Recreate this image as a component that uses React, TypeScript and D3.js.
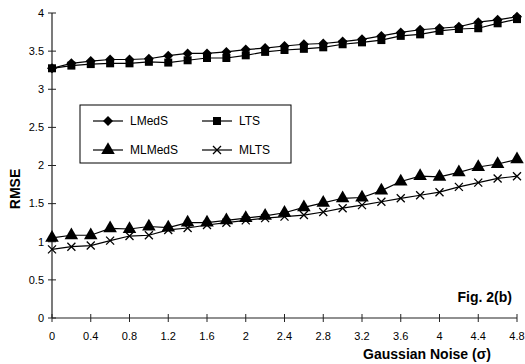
import React, { useEffect, useRef } from 'react';
import * as d3 from 'd3';

const noise = [0, 0.2, 0.4, 0.6, 0.8, 1.0, 1.2, 1.4, 1.6, 1.8, 2.0, 2.2, 2.4, 2.6, 2.8, 3.0, 3.2, 3.4, 3.6, 3.8, 4.0, 4.2, 4.4, 4.6, 4.8];
const lmeds = [3.275, 3.34, 3.37, 3.39, 3.39, 3.4, 3.44, 3.47, 3.47, 3.49, 3.52, 3.54, 3.567, 3.59, 3.6, 3.625, 3.655, 3.7, 3.745, 3.78, 3.8, 3.82, 3.88, 3.91, 3.95];
const lts = [3.275, 3.31, 3.33, 3.34, 3.34, 3.36, 3.35, 3.38, 3.41, 3.41, 3.445, 3.49, 3.515, 3.53, 3.55, 3.59, 3.615, 3.645, 3.7, 3.72, 3.765, 3.79, 3.8, 3.865, 3.92];
const mlmeds = [1.05, 1.085, 1.085, 1.176, 1.167, 1.2, 1.185, 1.25, 1.25, 1.28, 1.31, 1.34, 1.38, 1.45, 1.51, 1.57, 1.58, 1.67, 1.79, 1.86, 1.85, 1.91, 1.98, 2.02, 2.08];
const mlts = [0.9, 0.935, 0.95, 1.015, 1.075, 1.085, 1.155, 1.18, 1.22, 1.25, 1.28, 1.31, 1.33, 1.35, 1.39, 1.44, 1.48, 1.525, 1.57, 1.61, 1.65, 1.72, 1.775, 1.83, 1.86];
const xTicks = [0, 0.4, 0.8, 1.2, 1.6, 2, 2.4, 2.8, 3.2, 3.6, 4, 4.4, 4.8];
const yTicks = [0, 0.5, 1, 1.5, 2, 2.5, 3, 3.5, 4];

const series = [
    { name: 'LMedS', values: lmeds, marker: 'diamond' },
    { name: 'LTS', values: lts, marker: 'square' },
    { name: 'MLMedS', values: mlmeds, marker: 'triangle' },
    { name: 'MLTS', values: mlts, marker: 'cross' },
];

const FONT = '"Liberation Sans", Arial, sans-serif';

const drawMarker = (g, type, cx, cy) => {
    if (type === 'cross') {
        g.append('path')
            .attr('d', `M${cx - 4},${cy - 4}L${cx + 4},${cy + 4}M${cx - 4},${cy + 4}L${cx + 4},${cy - 4}`)
            .attr('stroke', '#000').attr('stroke-width', 1.3).attr('fill', 'none');
        return;
    }
    if (type === 'diamond') {
        // wider diamond than d3's default
        g.append('path')
            .attr('d', `M${cx},${cy - 5}L${cx + 5},${cy}L${cx},${cy + 5}L${cx - 5},${cy}Z`)
            .attr('fill', '#000');
        return;
    }
    const sym = type === 'square' ? d3.symbolSquare : d3.symbolTriangle;
    const size = type === 'square' ? 64 : 80;
    g.append('path')
        .attr('d', d3.symbol().type(sym).size(size)())
        .attr('transform', `translate(${cx},${cy})`)
        .attr('fill', '#000');
};

const App = () => {
    const ref = useRef(null);

    useEffect(() => {
        const svg = d3.select(ref.current);
        svg.selectAll('*').remove();

        const x = d3.scaleLinear().domain([0, 4.8]).range([52, 517]);
        const y = d3.scaleLinear().domain([0, 4]).range([318, 13]);

        // axes
        const axisColor = '#222';
        svg.append('line').attr('x1', x(0)).attr('x2', x(0)).attr('y1', y(4)).attr('y2', y(0))
            .attr('stroke', axisColor).attr('stroke-width', 1.2);
        svg.append('line').attr('x1', x(0)).attr('x2', x(4.8)).attr('y1', y(0)).attr('y2', y(0))
            .attr('stroke', axisColor).attr('stroke-width', 1.2);

        yTicks.forEach(t => {
            svg.append('line').attr('x1', x(0) - 4).attr('x2', x(0) + 4).attr('y1', y(t)).attr('y2', y(t))
                .attr('stroke', axisColor);
            svg.append('text').attr('x', x(0) - 8).attr('y', y(t)).attr('dy', '0.35em')
                .attr('text-anchor', 'end').attr('font-family', FONT).attr('font-size', 11)
                .text(String(t));
        });

        xTicks.forEach(t => {
            svg.append('line').attr('x1', x(t)).attr('x2', x(t)).attr('y1', y(0) - 4).attr('y2', y(0) + 4)
                .attr('stroke', axisColor);
            svg.append('text').attr('x', x(t)).attr('y', 340)
                .attr('text-anchor', 'middle').attr('font-family', FONT).attr('font-size', 11)
                .text(String(t));
        });

        svg.append('text').attr('transform', 'translate(20,189) rotate(-90)')
            .attr('text-anchor', 'middle').attr('font-family', FONT).attr('font-size', 14)
            .attr('font-weight', 'bold').text('RMSE');

        svg.append('text').attr('x', 427).attr('y', 359)
            .attr('text-anchor', 'middle').attr('font-family', FONT).attr('font-size', 14)
            .attr('font-weight', 'bold').text('Gaussian Noise (σ)');

        svg.append('text').attr('x', 512).attr('y', 302)
            .attr('text-anchor', 'end').attr('font-family', FONT).attr('font-size', 14)
            .attr('font-weight', 'bold').text('Fig. 2(b)');

        const line = d3.line().x((d, i) => x(noise[i])).y(d => y(d));

        series.forEach(s => {
            svg.append('path').attr('d', line(s.values)).attr('fill', 'none')
                .attr('stroke', '#000').attr('stroke-width', 1.2);
            const g = svg.append('g');
            s.values.forEach((v, i) => drawMarker(g, s.marker, x(noise[i]), y(v)));
        });

        // legend
        const leg = svg.append('g');
        leg.append('rect').attr('x', 80).attr('y', 105).attr('width', 211).attr('height', 58)
            .attr('fill', '#fff').attr('stroke', '#000').attr('stroke-width', 1);
        const spots = [[93, 121], [202, 121], [93, 150], [202, 150]];
        series.forEach((s, i) => {
            const [lx, ly] = spots[i];
            leg.append('line').attr('x1', lx).attr('x2', lx + 30).attr('y1', ly).attr('y2', ly)
                .attr('stroke', '#000').attr('stroke-width', 1.2);
            drawMarker(leg, s.marker, lx + 15, ly);
            leg.append('text').attr('x', lx + 37).attr('y', ly).attr('dy', '0.35em')
                .attr('font-family', FONT).attr('font-size', 12).text(s.name);
        });
    }, []);

    return (
        <svg ref={ref} width={525} height={364}
            style={{ position: 'absolute', left: 0, top: 0, background: '#fff' }} />
    );
};

export default App;
